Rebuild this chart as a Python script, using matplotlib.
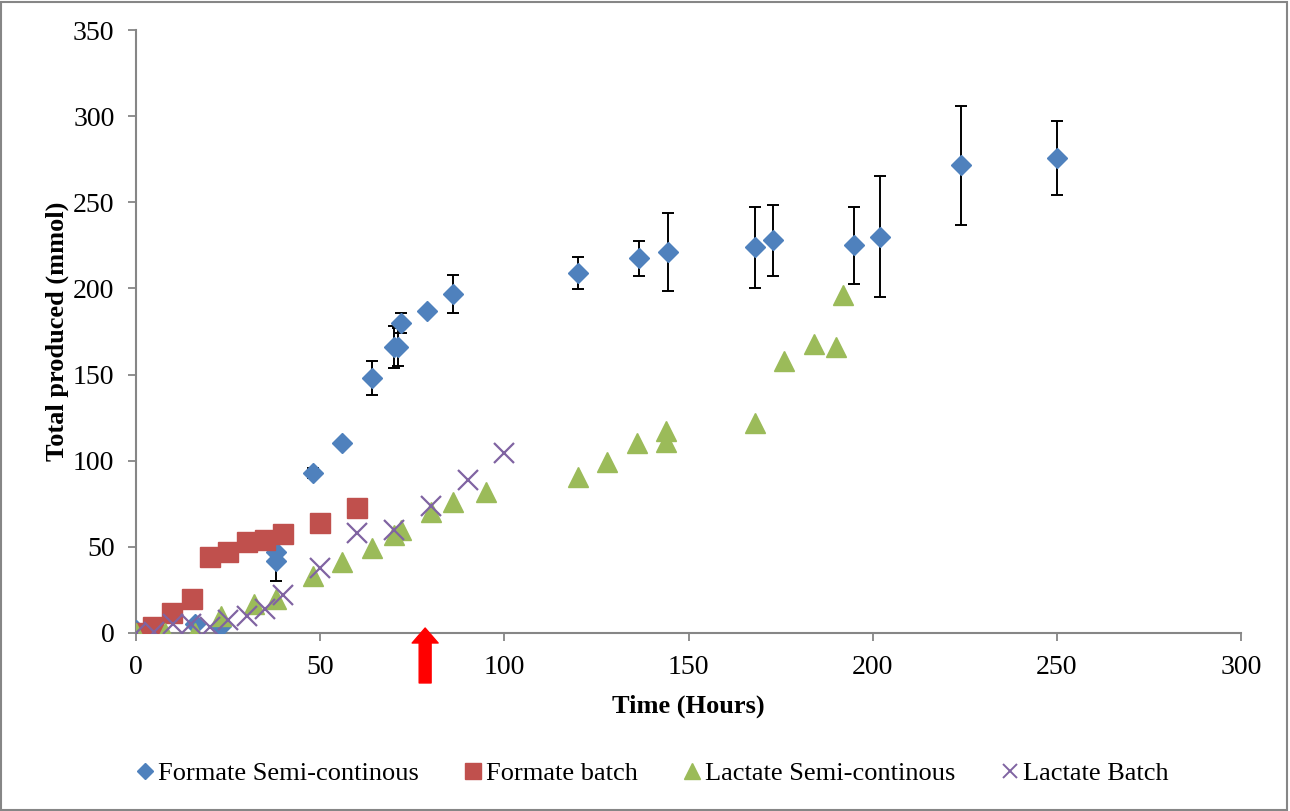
import matplotlib
matplotlib.use("Agg")
import matplotlib.pyplot as plt
from matplotlib.patches import Rectangle
from matplotlib.lines import Line2D

plt.rcParams['font.family'] = ['Liberation Serif', 'DejaVu Serif']

# Formate semi-continuous (with error bars)
fsc_t = [0, 16, 23, 38, 38, 48, 56, 64, 70, 71, 72, 79, 86, 120, 136.5, 144.5, 168, 173, 195, 202, 224, 250]
fsc_v = [2, 5, 4, 42, 47, 93, 110, 148, 166, 166, 180, 187, 197, 209, 217.5, 221, 224, 228, 225, 230, 271.5, 275.5]
fsc_err = [0, 0, 0, 12, 0, 3, 2, 10, 12, 11, 6, 0, 11, 9.5, 10, 22.5, 23.5, 20.5, 22.5, 35, 34.5, 21.5]

# Formate batch
fb_t = [0, 4.6, 9.8, 15.2, 20, 25, 30, 35, 40, 50, 60]
fb_v = [0, 3.5, 11.6, 20, 44, 47, 53, 54, 57.5, 64, 72.5]

# Lactate semi-continuous
lsc_t = [0, 8, 16, 23, 32, 38, 48, 56, 64, 70, 72, 80, 86, 95, 120, 128, 136, 144, 144, 168, 176, 184, 190, 192]
lsc_v = [0, 0, 0, 10, 17, 20, 33, 41, 49.5, 57, 60, 70, 76, 82, 90.5, 99, 110, 111, 117, 122, 158, 168, 166, 196]

# Lactate batch
lb_t = [0, 5, 10, 15, 20, 25, 30, 35, 40, 50, 60, 70, 80, 90, 100]
lb_v = [0, 0.6, 5, 5, 3.5, 7.5, 10, 14, 22, 38, 58, 60, 74, 89, 104.5]

blue, red, green, purple = '#4F81BD', '#C0504D', '#9BBB59', '#8064A2'

fig = plt.figure(figsize=(12.9, 8.11), dpi=100)
ax = fig.add_axes([136 / 1290, 1 - 633 / 811, (1241 - 136) / 1290, (633 - 30) / 811])

ax.errorbar(fsc_t, fsc_v, yerr=fsc_err, fmt='D', color=blue, ms=10.5, mec=blue,
            ecolor='black', elinewidth=1.4, capsize=4.5, capthick=1.4, zorder=3)
ax.plot(fb_t, fb_v, 's', color=red, ms=14.4, mec=red, zorder=4)
ax.plot(lsc_t, lsc_v, '^', color=green, ms=14.4, mec=green, zorder=5)
ax.plot(lb_t, lb_v, 'x', color=purple, ms=13.7, mew=1.6, zorder=6)

ax.set_xlim(0, 300)
ax.set_ylim(0, 350)
ax.set_xticks(range(0, 301, 50))
ax.set_yticks(range(0, 351, 50))
for s in ['top', 'right']:
    ax.spines[s].set_visible(False)
for s in ['left', 'bottom']:
    ax.spines[s].set_color('#868686')
    ax.spines[s].set_linewidth(1.5)
ax.tick_params(direction='out', length=5.5, width=1.3, color='#868686', labelsize=20)
ax.tick_params(axis='y', pad=10)
ax.tick_params(axis='x', pad=10)
ax.set_xlabel('Time (Hours)', fontsize=19, fontweight='bold', labelpad=11)
ax.set_ylabel('Total produced (mmol)', fontsize=19, fontweight='bold', labelpad=3)

# red arrow below the axis
ax.annotate('', xy=(78.5, 2.9), xytext=(78.5, -29),
            arrowprops=dict(facecolor='red', edgecolor='red', width=8.6, headwidth=18.7,
                            headlength=10.8, shrink=0),
            annotation_clip=False, zorder=10)

handles = [
    Line2D([], [], ls='none', marker='D', color=blue, ms=8),
    Line2D([], [], ls='none', marker='s', color=red, ms=11),
    Line2D([], [], ls='none', marker='^', color=green, ms=11),
    Line2D([], [], ls='none', marker='x', color=purple, ms=10, mew=1.4),
]
labels = ['Formate Semi-continous', 'Formate batch', 'Lactate Semi-continous', 'Lactate Batch']
ax.legend(handles, labels, loc='center', bbox_to_anchor=(0.505, 1 - 773 / 811),
          bbox_transform=fig.transFigure, ncol=4, frameon=False, fontsize=19,
          handletextpad=0.1, columnspacing=1.65, handlelength=0.8)

fig.patches.append(Rectangle((0.001, 0.001), 0.997, 0.997, transform=fig.transFigure,
                             fill=False, edgecolor='#868686', linewidth=1.5))

fig.savefig('out.png', dpi=100)
